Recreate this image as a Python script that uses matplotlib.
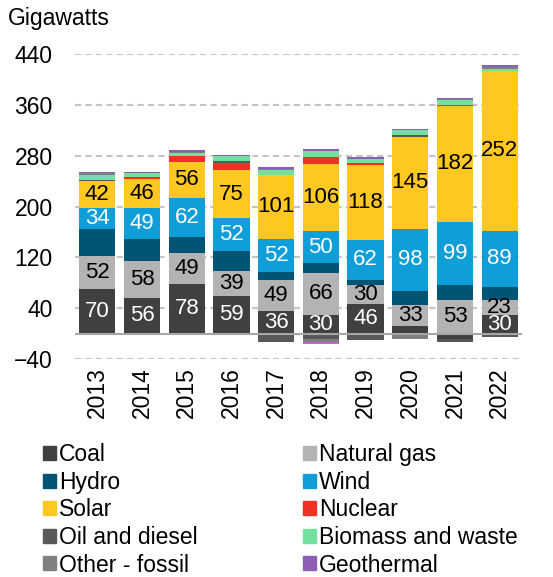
import numpy as np
import matplotlib
matplotlib.use("Agg")
import matplotlib.pyplot as plt
from matplotlib.patches import Patch

plt.rcParams["font.family"] = ["Liberation Sans", "DejaVu Sans"]

years   = ["2013", "2014", "2015", "2016", "2017", "2018", "2019", "2020", "2021", "2022"]
coal    = [70, 56, 78, 59, 36, 30, 46, 12, -8, 30]
gas     = [52, 58, 49, 39, 49, 66, 30, 33, 53, 23]
hydro   = [42, 35, 25, 32, 12, 15, 9, 22, 24, 20]
wind    = [34, 49, 62, 52, 52, 50, 62, 98, 99, 89]
solar   = [42, 46, 56, 75, 101, 106, 118, 145, 182, 252]
nuclear = [-3, 2, 9, 12, 0, 11, 3, -3, 2, 0]
oil     = [2, 0, -2, 3, -13, -9, -10, 2, -6, -6]
biomass = [8, 6, 5, 7, 8, 10, 6, 8, 7, 3]
other   = [2, -2, 2, -1, 1, -5, 1, -5, 2, 3]
geo     = [2.5, 2.5, 2.5, 2.5, 2.5, 2.5, 2.5, 2.5, 2.5, 2.5]
misc    = [0, 0, 0, 0, 0, -2, 0, 0, 0, 0]   # unlabelled pink sliver

series = [
    ("Coal", coal, "#404040"),
    ("Natural gas", gas, "#b3b3b3"),
    ("Hydro", hydro, "#005574"),
    ("Wind", wind, "#0f9ed8"),
    ("Solar", solar, "#ffc820"),
    ("Nuclear", nuclear, "#ee3224"),
    ("Oil and diesel", oil, "#595959"),
    ("Biomass and waste", biomass, "#74e0a0"),
    ("Other - fossil", other, "#808080"),
    ("Geothermal", geo, "#8c5fb5"),
    ("_misc", misc, "#c864c8"),
]
# which series get value labels, and text colour
labelled = {"Coal": "white", "Natural gas": "black", "Wind": "white", "Solar": "black"}
# coal labels only where printed on the chart
coal_lab = [True, True, True, True, True, True, True, False, False, True]

fig = plt.figure(figsize=(5.53, 5.77), dpi=100)
ax = fig.add_axes([75/553, 1 - 359/577, 447/553, 305/577])

x = np.arange(len(years))
pos = np.zeros(len(years)); neg = np.zeros(len(years))
for name, vals, col in series:
    v = np.array(vals, float)
    base = np.where(v >= 0, pos, neg)
    ax.bar(x, v, 0.81, bottom=base, color=col, lw=0, zorder=2)
    if name in labelled:
        for i in range(len(x)):
            if name == "Coal" and not coal_lab[i]:
                continue
            ax.text(x[i], base[i] + v[i]/2, f"{v[i]:.0f}", ha="center", va="center",
                    fontsize=16, color=labelled[name], zorder=4)
    pos = np.where(v >= 0, pos + v, pos)
    neg = np.where(v < 0, neg + v, neg)

ax.set_xlim(-0.5, len(years) - 0.5)
ax.set_ylim(-40, 440)
ax.set_yticks(np.arange(-40, 441, 80))
ax.set_xticks(x)
ax.set_xticklabels(years, rotation=90)
ax.tick_params(axis="both", length=0, labelsize=16.5)
ax.tick_params(axis="y", pad=16)
ax.tick_params(axis="x", pad=6)
for s in ax.spines.values():
    s.set_visible(False)
ax.yaxis.grid(True, color="#c4c4c4", ls=(0, (3, 2)), lw=1.5, zorder=0)
ax.axhline(0, color="#a6a6a6", lw=1.5, zorder=3)

fig.text(8/553, 1 - 18/577, "Gigawatts", fontsize=16.5, va="center", ha="left")

# legend, column-major
order = [0, 2, 4, 6, 8, 1, 3, 5, 7, 9]
handles = [Patch(color=series[i][2], label=series[i][0]) for i in order]
fig.legend(handles=handles, ncol=2, loc="upper left", bbox_to_anchor=(34/553, 1 - 434/577),
           frameon=False, fontsize=16.5, handlelength=0.55, handleheight=0.55,
           handletextpad=0.15, columnspacing=4.6, labelspacing=0.2, borderaxespad=0)

fig.savefig("out.png", dpi=100)
